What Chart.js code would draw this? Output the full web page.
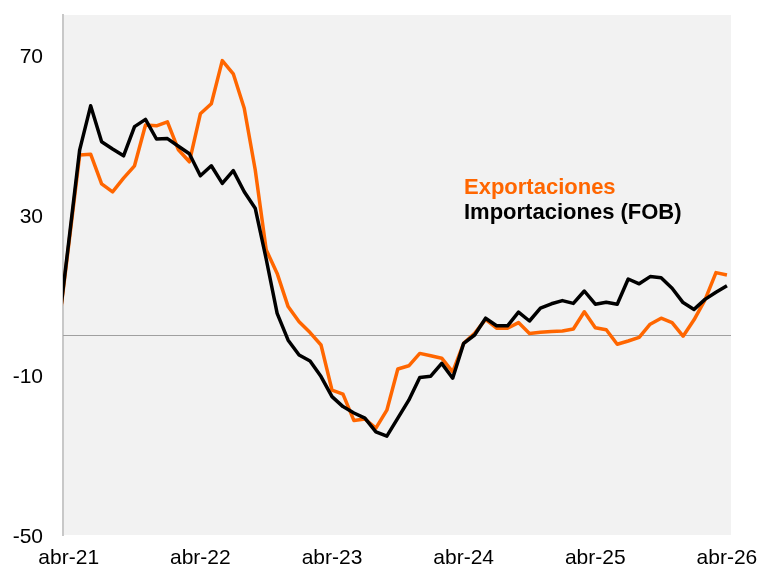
<!DOCTYPE html>
<html>
<head>
<meta charset="utf-8">
<script src="https://cdn.jsdelivr.net/npm/chart.js@4"></script>
<style>
  html, body { margin: 0; padding: 0; background: #fff; }
</style>
</head>
<body>
<canvas id="comercioChart" width="762" height="568"></canvas>
<script>
// Meses (mar-21 queda fuera del eje, solo da el tramo inicial de la línea)
const meses = [
  'mar-21','abr-21','may-21','jun-21','jul-21','ago-21','sep-21','oct-21','nov-21','dic-21','ene-22','feb-22','mar-22',
  'abr-22','may-22','jun-22','jul-22','ago-22','sep-22','oct-22','nov-22','dic-22','ene-23','feb-23','mar-23',
  'abr-23','may-23','jun-23','jul-23','ago-23','sep-23','oct-23','nov-23','dic-23','ene-24','feb-24','mar-24',
  'abr-24','may-24','jun-24','jul-24','ago-24','sep-24','oct-24','nov-24','dic-24','ene-25','feb-25','mar-25',
  'abr-25','may-25','jun-25','jul-25','ago-25','sep-25','oct-25','nov-25','dic-25','ene-26','feb-26','mar-26',
  'abr-26'
];
const exportaciones = [
  0.0, 22.5, 45.0, 45.2, 37.8, 35.8, 39.2, 42.3, 52.5, 52.3, 53.3, 46.3, 43.3,
  55.3, 57.8, 68.6, 65.3, 56.7, 41.3, 21.3, 15.4, 7.1, 3.3, 0.6, -2.5,
  -13.8, -14.8, -21.4, -21.0, -23.3, -18.8, -8.5, -7.7, -4.6, -5.2, -5.8, -9.2,
  -2.1, 0.4, 3.9, 1.7, 1.7, 3.1, 0.4, 0.7, 0.9, 1.0, 1.5, 5.8,
  1.8, 1.3, -2.3, -1.5, -0.6, 2.7, 4.2, 3.1, -0.3, 3.8, 8.8, 15.6,
  15.0
];
const importaciones = [
  0.2, 23.2, 46.3, 57.3, 48.3, 46.5, 44.8, 52.1, 53.9, 49.0, 49.1, 47.2, 45.3,
  39.8, 42.3, 37.9, 41.1, 35.8, 31.7, 19.0, 5.4, -1.3, -5.0, -6.5, -10.4,
  -15.4, -17.9, -19.5, -20.8, -24.2, -25.3, -20.8, -16.3, -10.6, -10.3, -7.1, -10.8,
  -2.1, 0.0, 4.2, 2.3, 2.3, 5.7, 3.5, 6.7, 7.8, 8.6, 7.9, 11.0,
  7.7, 8.2, 7.7, 14.0, 12.8, 14.6, 14.3, 11.7, 8.1, 6.4, 8.9, 10.7,
  12.3
];
const etiquetasX = ['abr-21', 'abr-22', 'abr-23', 'abr-24', 'abr-25', 'abr-26'];
const ticksY = [-50, -10, 30, 70];

const FONT = '"Liberation Sans", Arial, sans-serif';

// posición en meses contada desde abr-21
const posMes = (m) => meses.indexOf(m) - 1;
const serie = (vals) => vals.map((v, i) => ({ x: i - 1, y: v }));

const fondoPlugin = {
  id: 'fondo',
  beforeDraw(chart) {
    const { ctx, chartArea: a } = chart;
    ctx.save();
    ctx.fillStyle = '#f2f2f2';
    ctx.fillRect(a.left, a.top, a.right - a.left, a.bottom - a.top);
    ctx.restore();
  },
  beforeDatasetsDraw(chart) {
    const { ctx, chartArea: a, scales } = chart;
    const y0 = Math.round(scales.y.getPixelForValue(0)) + 0.5;
    ctx.save();
    ctx.strokeStyle = '#a0a0a0';
    ctx.lineWidth = 1;
    ctx.beginPath();
    ctx.moveTo(a.left, y0);
    ctx.lineTo(a.right, y0);
    ctx.stroke();
    ctx.restore();
  },
  afterDraw(chart) {
    const ctx = chart.ctx;
    ctx.save();
    ctx.font = 'bold 22px ' + FONT;
    ctx.textBaseline = 'alphabetic';
    ctx.fillStyle = '#FF6600';
    ctx.fillText('Exportaciones', 464, 194);
    ctx.fillStyle = '#000000';
    ctx.fillText('Importaciones (FOB)', 464, 219);
    ctx.restore();
  }
};

new Chart(document.getElementById('comercioChart'), {
  type: 'line',
  data: {
    datasets: [
      { label: 'Exportaciones', data: serie(exportaciones), borderColor: '#FF6600', order: 2 },
      { label: 'Importaciones (FOB)', data: serie(importaciones), borderColor: '#000000', order: 1 }
    ]
  },
  options: {
    responsive: false,
    animation: false,
    layout: { padding: { left: 0, top: 15, right: 31, bottom: 0 } },
    elements: {
      line: { borderWidth: 3.5, tension: 0, borderJoinStyle: 'round', fill: false },
      point: { radius: 0, hoverRadius: 0 }
    },
    datasets: { line: { clip: 0 } },
    plugins: { legend: { display: false }, tooltip: { enabled: false } },
    scales: {
      x: {
        type: 'linear',
        min: -0.52,
        max: 60.37,
        afterBuildTicks: (s) => { s.ticks = etiquetasX.map(l => ({ value: posMes(l) })); },
        afterFit: (s) => { s.height = 33; s.paddingLeft = 0; s.paddingRight = 0; },
        ticks: {
          autoSkip: false, maxRotation: 0, padding: 11, color: '#000',
          font: { family: FONT, size: 21 },
          callback: (v) => meses[v + 1]
        },
        grid: { display: false, drawTicks: false },
        border: { display: false }
      },
      y: {
        min: -50,
        max: 80,
        afterBuildTicks: (s) => { s.ticks = ticksY.map(v => ({ value: v })); },
        afterFit: (s) => { s.width = 63; s.paddingTop = 0; s.paddingBottom = 0; },
        ticks: { padding: 20, labelOffset: 2, color: '#000', font: { family: FONT, size: 21 } },
        grid: { display: false, drawTicks: false },
        border: { display: true, color: '#c8c8c8', width: 2 }
      }
    }
  },
  plugins: [fondoPlugin]
});
</script>
</body>
</html>
